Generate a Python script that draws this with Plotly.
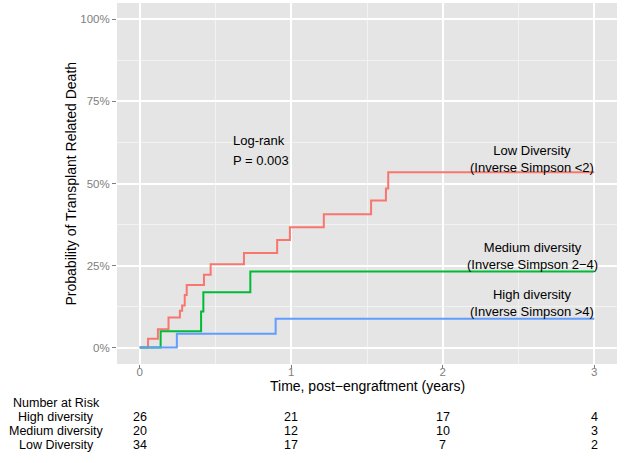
import plotly.graph_objects as go

# ---- data ----
low_t = [0, 0.055, 0.12, 0.19, 0.265, 0.28, 0.297, 0.31, 0.424, 0.468, 0.688, 0.907, 0.991, 1.215, 1.527, 1.625, 1.64, 3.0]
low_p = [0, 0.027, 0.056, 0.092, 0.112, 0.128, 0.160, 0.191, 0.222, 0.254, 0.288, 0.328, 0.367, 0.406, 0.448, 0.485, 0.534, 0.534]

med_t = [0, 0.138, 0.405, 0.42, 0.73, 3.0]
med_p = [0, 0.050, 0.110, 0.169, 0.232, 0.232]

high_t = [0, 0.245, 0.897, 3.0]
high_p = [0, 0.042, 0.088, 0.088]

risk_times = [0, 1, 2, 3]
risk_groups = ["High diversity", "Medium diversity", "Low Diversity"]
risk_high = [26, 21, 17, 4]
risk_med = [20, 12, 10, 3]
risk_low = [34, 17, 7, 2]

x_ticks = [0, 1, 2, 3]
y_ticks = [0, 0.25, 0.5, 0.75, 1.0]
y_ticklabels = ["0%", "25%", "50%", "75%", "100%"]

RED, GREEN, BLUE = "#F8766D", "#00BA38", "#619CFF"
FONT = "Liberation Sans, Arial, sans-serif"

fig = go.Figure()
for t, p, c in [(low_t, low_p, RED), (med_t, med_p, GREEN), (high_t, high_p, BLUE)]:
    fig.add_trace(go.Scatter(x=t, y=p, mode="lines", line=dict(color=c, width=2, shape="hv"),
                             showlegend=False, hoverinfo="skip"))

W, H = 629, 463
ml, mr, mt, mb = 117, 12, 3, 99
ph = H - mt - mb

def py(ypx):
    return (H - mb - ypx) / ph

fig.update_layout(
    width=W, height=H,
    margin=dict(l=ml, r=mr, t=mt, b=mb),
    paper_bgcolor="white", plot_bgcolor="#E5E5E5",
    font=dict(family=FONT, color="black"),
    xaxis=dict(range=[-0.15, 3.15], tickvals=x_ticks, ticks="outside", ticklen=4,
               tickcolor="#7F7F7F", tickfont=dict(size=11.5, color="#808080"),
               ticklabelstandoff=-7,
               showgrid=True, gridcolor="white", gridwidth=1.5, zeroline=False,
               minor=dict(dtick=0.5, tick0=0, showgrid=True, gridcolor="#F2F2F2", gridwidth=1)),
    yaxis=dict(range=[-0.05, 1.05], tickvals=y_ticks, ticktext=y_ticklabels, ticks="outside",
               ticklen=4, tickcolor="#7F7F7F", tickfont=dict(size=11.5, color="#808080"),
               showgrid=True, gridcolor="white", gridwidth=1.5, zeroline=False,
               minor=dict(dtick=0.125, tick0=0, showgrid=True, gridcolor="#F2F2F2", gridwidth=1)),
)

ann = []
# axis titles
ann.append(dict(text="Time, post\u2212engraftment (years)", xref="paper", yref="paper",
                x=0.5, y=py(386), showarrow=False, font=dict(size=14), xanchor="center", yanchor="middle"))
ann.append(dict(text="Probability of Transplant Related Death", xref="paper", yref="paper",
                x=(70 - ml) / (W - ml - mr), y=0.5, textangle=-90, showarrow=False,
                font=dict(size=14), xanchor="center", yanchor="middle"))
# log-rank text
ann.append(dict(text="Log-rank", x=0.6, y=0.632, xref="x", yref="y", showarrow=False,
                xanchor="left", yanchor="middle", font=dict(size=13)))
ann.append(dict(text="P = 0.003", x=0.6, y=0.571, xref="x", yref="y", showarrow=False,
                xanchor="left", yanchor="middle", font=dict(size=13)))
# curve labels
for txt, yv in [("Low Diversity<br>(Inverse Simpson <2)", 0.575),
                ("Medium diversity<br>(Inverse Simpson 2\u22124)", 0.279),
                ("High diversity<br>(Inverse Simpson >4)", 0.135)]:
    ann.append(dict(text=txt, x=2.59, y=yv, xref="x", yref="y", showarrow=False,
                    xanchor="center", yanchor="middle", align="center", font=dict(size=13)))
# risk table
ann.append(dict(text="Number at Risk", xref="paper", yref="paper", x=(56 - ml) / (W - ml - mr),
                y=py(403), showarrow=False, xanchor="center", yanchor="middle", font=dict(size=12.5)))
for g, vals, ypx in zip(risk_groups, [risk_high, risk_med, risk_low], [417, 431, 445]):
    ann.append(dict(text=g, xref="paper", yref="paper", x=(56 - ml) / (W - ml - mr),
                    y=py(ypx), showarrow=False, xanchor="center", yanchor="middle", font=dict(size=12.5)))
    for t, v in zip(risk_times, vals):
        ann.append(dict(text=str(v), xref="x", yref="paper", x=t, y=py(ypx), showarrow=False,
                        xanchor="center", yanchor="middle", font=dict(size=12.5)))
fig.update_layout(annotations=ann)

fig.write_html("out.html", config={"displayModeBar": False},
               post_script="document.body.style.margin='0';")
